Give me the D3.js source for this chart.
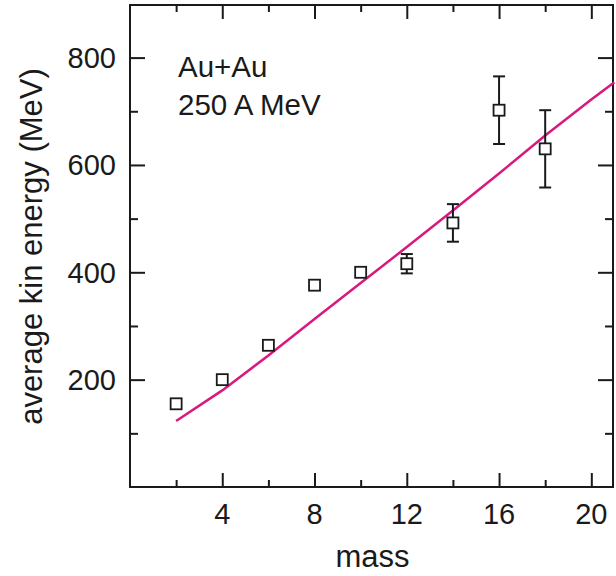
<!DOCTYPE html>
<html>
<head>
<meta charset="utf-8">
<script src="https://cdn.jsdelivr.net/npm/d3@7"></script>
<style>
  body { margin: 0; background: #fff; }
  text { font-family: "Liberation Sans", Arial, Helvetica, sans-serif; fill: #1a1a1a; }
</style>
</head>
<body>
<div id="chart"></div>
<script>
// measured points (squares with error bars)
var mass = [2, 4, 6, 8, 10, 12, 14, 16, 18];
var energy = [155, 200, 264, 376, 400, 416, 492, 702, 630];
var err = [0, 0, 0, 0, 0, 18, 35, 63, 72];

// model curve
var curveMass = [2, 4, 6, 8, 10, 12, 14, 16, 18, 20, 21];
var curveEnergy = [123, 180, 245, 313, 380, 447, 515, 584, 655, 722, 754];

var xTicks = [4, 8, 12, 16, 20];
var xMinor = [2, 6, 10, 14, 18];
var yTicks = [200, 400, 600, 800];
var yMinor = [100, 300, 500, 700];

var margin = {top: 5, right: 3, bottom: 89, left: 130},
    W = 616, H = 576,
    width = W - margin.left - margin.right,
    height = H - margin.top - margin.bottom;

var svg = d3.select("#chart").append("svg")
    .attr("width", W).attr("height", H)
  .append("g")
    .attr("transform", "translate(" + margin.left + "," + margin.top + ")");

var x = d3.scaleLinear().domain([0, 20.94]).range([0, width]);
var y = d3.scaleLinear().domain([0, 898]).range([height, 0]);

// ticks on all four sides, pointing inward
function tickAxis(axisFn, scale, vals, len, tr) {
  var g = svg.append("g").attr("transform", tr)
    .call(axisFn(scale).tickValues(vals).tickSize(len).tickFormat(""));
  g.select(".domain").remove();
  g.selectAll("line").attr("stroke", "#1a1a1a").attr("stroke-width", 2);
  return g;
}
tickAxis(d3.axisTop, x, xTicks, 14, "translate(0," + height + ")");
tickAxis(d3.axisTop, x, xMinor, 7, "translate(0," + height + ")");
tickAxis(d3.axisBottom, x, xTicks, 14, "translate(0,0)");
tickAxis(d3.axisBottom, x, xMinor, 7, "translate(0,0)");
tickAxis(d3.axisRight, y, yTicks, 15, "translate(0,0)");
tickAxis(d3.axisRight, y, yMinor, 8, "translate(0,0)");
tickAxis(d3.axisLeft, y, yTicks, 15, "translate(" + width + ",0)");
tickAxis(d3.axisLeft, y, yMinor, 8, "translate(" + width + ",0)");

svg.append("rect")
    .attr("width", width).attr("height", height)
    .attr("fill", "none").attr("stroke", "#1a1a1a").attr("stroke-width", 2);

// tick labels
svg.selectAll(".xl").data(xTicks).enter().append("text")
    .attr("x", function(d) { return x(d); })
    .attr("y", height + 37)
    .attr("text-anchor", "middle")
    .attr("font-size", 29)
    .text(function(d) { return d; });

svg.selectAll(".yl").data(yTicks).enter().append("text")
    .attr("x", -14)
    .attr("y", function(d) { return y(d); })
    .attr("dy", "0.36em")
    .attr("text-anchor", "end")
    .attr("font-size", 29)
    .text(function(d) { return d; });

svg.append("text")
    .attr("x", width / 2 + 1)
    .attr("y", height + 80)
    .attr("text-anchor", "middle")
    .attr("font-size", 31)
    .text("mass");

svg.append("text")
    .attr("transform", "translate(-88," + (y(448)) + ") rotate(-90)")
    .attr("text-anchor", "middle")
    .attr("font-size", 31)
    .text("average kin energy (MeV)");

svg.append("text").attr("x", 48).attr("y", 72).attr("font-size", 29.5).text("Au+Au");
svg.append("text").attr("x", 48).attr("y", 110).attr("font-size", 29.5).text("250 A MeV");

// model line
var line = d3.line()
    .x(function(d, i) { return x(curveMass[i]); })
    .y(function(d) { return y(d); });
svg.append("path")
    .datum(curveEnergy)
    .attr("d", line)
    .attr("fill", "none")
    .attr("stroke", "#d8197f")
    .attr("stroke-width", 2.5);

// error bars
var pts = mass.map(function(m, i) { return {m: m, e: energy[i], s: err[i]}; });
var eb = svg.selectAll(".eb").data(pts.filter(function(d) { return d.s > 0; })).enter().append("g")
    .attr("stroke", "#1a1a1a").attr("stroke-width", 2);
eb.append("line")
    .attr("x1", function(d) { return x(d.m); }).attr("x2", function(d) { return x(d.m); })
    .attr("y1", function(d) { return y(d.e + d.s); }).attr("y2", function(d) { return y(d.e - d.s); });
eb.append("line")
    .attr("x1", function(d) { return x(d.m) - 6; }).attr("x2", function(d) { return x(d.m) + 6; })
    .attr("y1", function(d) { return y(d.e + d.s); }).attr("y2", function(d) { return y(d.e + d.s); });
eb.append("line")
    .attr("x1", function(d) { return x(d.m) - 6; }).attr("x2", function(d) { return x(d.m) + 6; })
    .attr("y1", function(d) { return y(d.e - d.s); }).attr("y2", function(d) { return y(d.e - d.s); });

// square markers
svg.selectAll(".pt").data(pts).enter().append("rect")
    .attr("x", function(d) { return x(d.m) - 5.5; })
    .attr("y", function(d) { return y(d.e) - 5.5; })
    .attr("width", 11).attr("height", 11)
    .attr("fill", "#fff")
    .attr("stroke", "#1a1a1a")
    .attr("stroke-width", 1.8);
</script>
</body>
</html>
